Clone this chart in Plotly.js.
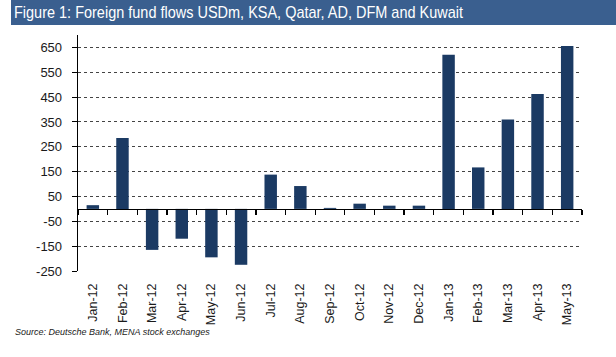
<!DOCTYPE html>
<html>
<head>
<meta charset="utf-8">
<script src="https://cdn.plot.ly/plotly-3.0.1.min.js"></script>
<style>
html,body{margin:0;padding:0;background:#fff;}
#chart{width:616px;height:357px;}
</style>
</head>
<body>
<div id="chart"></div>
<script>
const months = ["Jan-12","Feb-12","Mar-12","Apr-12","May-12","Jun-12","Jul-12","Aug-12","Sep-12","Oct-12","Nov-12","Dec-12","Jan-13","Feb-13","Mar-13","Apr-13","May-13"];
const flows = [15, 285, -165, -120, -195, -225, 138, 92, 4, 21, 13, 13, 621, 167, 360, 463, 656];
const yTicks = [650, 550, 450, 350, 250, 150, 50, -50, -150, -250];
const yRange = [-250, 700];

const titleText = "Figure 1: Foreign fund flows USDm, KSA, Qatar, AD, DFM and Kuwait";
const sourceText = "Source: Deutsche Bank, MENA stock exchanges";

const W = 616, H = 357;
const m = {l: 78, r: 34, t: 35, b: 86};
const pw = W - m.l - m.r, ph = H - m.t - m.b;
const px2x = p => (p - m.l) / pw;
const py2y = p => (H - m.b - p) / ph;
const zeroFrac = (0 - yRange[0]) / (yRange[1] - yRange[0]);
const xRange = [-0.5, months.length - 0.5];

const bars = {
  type: "bar", x: months, y: flows, xaxis: "x", yaxis: "y",
  marker: {color: "#1b3a63", line: {width: 0}},
  hoverinfo: "x+y"
};
const labelsTrace = {
  type: "scatter", mode: "markers", x: months, y: flows, xaxis: "x2", yaxis: "y",
  marker: {opacity: 0}, hoverinfo: "skip", showlegend: false
};

const layout = {
  width: W, height: H,
  margin: {l: m.l, r: m.r, t: m.t, b: m.b, pad: 0},
  paper_bgcolor: "#fff", plot_bgcolor: "#fff",
  showlegend: false,
  bargap: 0.58,
  font: {family: "Liberation Sans, Arial, sans-serif", color: "#1a1a1a"},
  title: {
    text: titleText, xref: "container", yref: "container",
    x: 14 / W, xanchor: "left", y: 1 - 12.5 / H, yanchor: "middle",
    font: {family: "Liberation Sans, Arial, sans-serif", size: 17, color: "#ffffff"}
  },
  xaxis: {
    type: "category", range: xRange, anchor: "free", position: zeroFrac,
    showline: true, linecolor: "#000", linewidth: 1.3,
    ticks: "outside", tickson: "boundaries", ticklen: 5, tickcolor: "#000", tickwidth: 1.3,
    showticklabels: false, showgrid: false, zeroline: false, fixedrange: true
  },
  xaxis2: {
    type: "category", range: xRange, overlaying: "x", anchor: "y", side: "bottom",
    showline: false, ticks: "", showgrid: false, zeroline: false,
    tickangle: -90, ticklabelstandoff: 9,
    tickfont: {size: 12.5, color: "#1a1a1a"}
  },
  yaxis: {
    range: yRange, tickmode: "array", tickvals: yTicks, ticktext: yTicks.map(String),
    showline: true, linecolor: "#000", linewidth: 1.3,
    ticks: "outside", ticklen: 5, tickcolor: "#000", tickwidth: 1,
    ticklabelstandoff: 7,
    showgrid: true, gridcolor: "#444", griddash: "dot", gridwidth: 1,
    zeroline: false, tickfont: {size: 13, color: "#1a1a1a"}
  },
  shapes: [
    {type: "rect", xref: "paper", yref: "paper", layer: "below",
     x0: px2x(11), x1: px2x(616), y0: py2y(25), y1: py2y(0),
     fillcolor: "#3a5f8f", line: {width: 0}}
  ],
  annotations: [
    {text: "<i>" + sourceText + "</i>", xref: "paper", yref: "paper",
     x: px2x(13), y: py2y(332), xanchor: "left", yanchor: "middle", showarrow: false,
     font: {size: 9, color: "#222"}}
  ]
};

Plotly.newPlot("chart", [bars, labelsTrace], layout, {displayModeBar: false, staticPlot: true}).then(gd => {
  const t = gd.querySelector(".gtitle");
  if (t) {
    t.setAttribute("textLength", "449");
    t.setAttribute("lengthAdjust", "spacingAndGlyphs");
  }
});
</script>
</body>
</html>
